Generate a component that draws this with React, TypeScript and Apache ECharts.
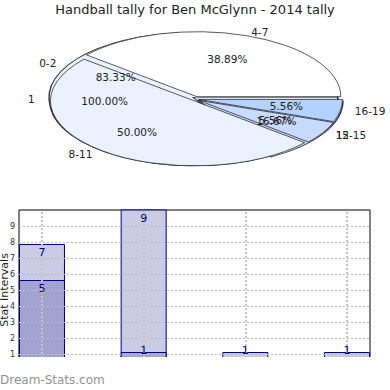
import React, { useEffect, useRef } from "react";
import * as echarts from "echarts";

const titleText = "Handball tally for Ben McGlynn - 2014 tally";

// main pie
const pieMainCats = ["4-7", "8-11", "12-15", "16-19"];
const pieMainValues = [7, 9, 1, 1];
const pieMainColors = ["#ffffff", "#ebf1ff", "#c9daff", "#b4d2ff"];
// overlaid pies (drawn underneath)
const pieSecondCats = ["0-2", "15"];
const pieSecondValues = [5, 1];
const pieThirdCats = ["1"];
const pieThirdValues = [1];

// bar chart
const barCats = ["4-7", "8-11", "12-15", "16-19"];
const barLightValues = [7, 9, 1, 1];
const barDarkValues: (number | null)[] = [5, 1, null, null];
const yTickLabels = ["1", "2", "3", "4", "5", "6", "7", "8", "9"];
const yAxisName = "Stat Intervals";
const watermark = "Dream-Stats.com";

const FONT = "DejaVu Sans";
const CX = 196;
const CY = 99;
const RX = 144;
const RY = 65;

type Slice = {
  name: string;
  start: number;
  end: number;
  pct: string;
  color: string;
  explode: number;
  ox: number;
  oy: number;
  stroke: string;
  lw: number;
};

function buildSlices(
  cats: string[],
  values: number[],
  colors: string[],
  explode: number,
  ox: number,
  oy: number,
  stroke: string,
  lw: number
): Slice[] {
  const total = values.reduce((a, b) => a + b, 0);
  let acc = 0;
  return values.map((v, i) => {
    const start = (acc / total) * 360;
    acc += v;
    const end = (acc / total) * 360;
    return {
      name: cats[i],
      start,
      end,
      pct: ((v / total) * 100).toFixed(2) + "%",
      color: colors[i % colors.length],
      explode,
      ox,
      oy,
      stroke,
      lw,
    };
  });
}

function barData(values: (number | null)[]) {
  return values
    .map((v, i) =>
      v == null
        ? null
        : {
            value: [i, v],
            label: v <= 1 ? { position: "top", distance: -4 } : { position: "insideTop", distance: 3 },
          }
    )
    .filter((d) => d != null);
}

export default function App() {
  const ref = useRef<HTMLDivElement>(null);
  useEffect(() => {
    document.body.style.margin = "0";
    if (!ref.current) return;
    const chart = echarts.init(ref.current, undefined, { renderer: "svg" });

    const slices: Slice[] = [
      ...buildSlices(pieThirdCats, pieThirdValues, ["#ebf1ff"], 0, -2, 2, "#2a2a2a", 1.6),
      ...buildSlices(pieSecondCats, pieSecondValues, ["#ebf1ff", "#c9daff"], 3.5, 0, 0, "#2a2a2a", 1.3),
      ...buildSlices(pieMainCats, pieMainValues, pieMainColors, 2.5, 0, 0, "#1e1e1e", 1),
    ];

    const lightData = barData(barLightValues);
    const darkData = barData(barDarkValues);

    const barBase = {
      type: "bar",
      xAxisIndex: 0,
      yAxisIndex: 1,
      barWidth: 46,
      barGap: "-100%",
    };

    const option: any = {
      animation: false,
      title: {
        text: titleText,
        left: "center",
        top: -2,
        textStyle: { fontFamily: FONT, fontSize: 13, fontWeight: "normal", color: "#222" },
      },
      grid: {
        left: 19,
        right: 20,
        top: 210,
        height: 160,
        show: true,
        borderColor: "#000",
        borderWidth: 1,
        backgroundColor: "transparent",
      },
      xAxis: {
        type: "value",
        min: -0.226,
        max: 3.226,
        show: false,
      },
      yAxis: [
        {
          type: "value",
          min: 0,
          max: 10,
          interval: 1,
          z: 3,
          axisLine: { show: false },
          axisTick: { show: false },
          axisLabel: {
            fontFamily: FONT,
            fontSize: 8,
            color: "#333",
            margin: 4,
            formatter: (v: number) => (v >= 1 && v <= yTickLabels.length ? yTickLabels[v - 1] : ""),
          },
          splitLine: {
            show: true,
            showMinLine: false,
            showMaxLine: false,
            lineStyle: { type: [2, 2], color: "#bdbdbd", width: 1 },
          },
        },
        {
          type: "value",
          min: 0,
          max: 160 / 18,
          show: false,
        },
      ],
      series: [
        {
          type: "custom",
          coordinateSystem: "none",
          silent: true,
          data: slices.map((_, i) => i),
          renderItem: (params: any) => {
            const s = slices[params.dataIndex];
            const mid = (((s.start + s.end) / 2) * Math.PI) / 180;
            const cos = Math.cos(mid);
            const sin = Math.sin(mid);
            const cx = CX + s.explode * cos + s.ox;
            const cy = CY - s.explode * sin + s.oy;
            const align = cos > 0.2 ? "left" : cos < -0.2 ? "right" : "center";
            return {
              type: "group",
              children: [
                {
                  type: "group",
                  x: cx,
                  y: cy,
                  scaleY: RY / RX,
                  children: [
                    {
                      type: "sector",
                      shape: {
                        cx: 0,
                        cy: 0,
                        r: RX,
                        r0: 0,
                        startAngle: (-s.start * Math.PI) / 180,
                        endAngle: (-s.end * Math.PI) / 180,
                        clockwise: false,
                      },
                      style: { fill: s.color, stroke: s.stroke, lineWidth: s.lw, strokeNoScale: true },
                    },
                  ],
                },
                {
                  type: "text",
                  x: cx + RX * 0.62 * cos,
                  y: cy - RY * 0.62 * sin,
                  z2: 10,
                  style: {
                    text: s.pct,
                    fill: "#222",
                    font: `10.5px ${FONT}`,
                    align: "center",
                    verticalAlign: "middle",
                  },
                },
                {
                  type: "text",
                  x: CX + RX * 1.12 * cos,
                  y: CY - RY * 1.1 * sin,
                  z2: 10,
                  style: {
                    text: s.name,
                    fill: "#222",
                    font: `10.5px ${FONT}`,
                    align,
                    verticalAlign: "middle",
                  },
                },
              ],
            };
          },
        },
        {
          ...barBase,
          name: "light",
          z: 2,
          data: lightData,
          itemStyle: { color: "#cbcbe6", borderColor: "#00007f", borderWidth: 1 },
          label: { show: false },
        },
        {
          ...barBase,
          name: "dark",
          z: 2,
          data: darkData,
          itemStyle: { color: "#a3a3d1", borderColor: "#00007f", borderWidth: 1 },
          label: { show: false },
          markLine: {
            silent: true,
            symbol: "none",
            label: { show: false },
            lineStyle: { type: [2, 2], color: "#c4c4c4", width: 2 },
            data: barCats.map((_, i) => ({ xAxis: i })),
          },
        },
        // label layers above the grid lines
        {
          ...barBase,
          name: "lightLabels",
          z: 5,
          silent: true,
          data: lightData,
          itemStyle: { color: "transparent", borderWidth: 0 },
          label: { show: true, color: "#00007f", fontFamily: FONT, fontSize: 11 },
        },
        {
          ...barBase,
          name: "darkLabels",
          z: 5,
          silent: true,
          data: darkData,
          itemStyle: { color: "transparent", borderWidth: 0 },
          label: { show: true, color: "#00007f", fontFamily: FONT, fontSize: 11 },
        },
      ],
      graphic: [
        {
          type: "rect",
          z: 50,
          shape: { x: 0, y: 357, width: 390, height: 16 },
          style: { fill: "#fff" },
        },
        {
          type: "text",
          z: 60,
          x: 4.5,
          y: 290,
          rotation: Math.PI / 2,
          style: {
            text: yAxisName,
            fill: "#222",
            font: `11px ${FONT}`,
            align: "center",
            verticalAlign: "middle",
          },
        },
        {
          type: "text",
          z: 60,
          x: 0,
          y: 380,
          style: {
            text: watermark,
            fill: "#939393",
            font: `12px ${FONT}`,
            align: "left",
            verticalAlign: "middle",
          },
        },
      ],
    };
    chart.setOption(option);
    return () => chart.dispose();
  }, []);
  return <div ref={ref} style={{ width: 390, height: 390 }} />;
}
